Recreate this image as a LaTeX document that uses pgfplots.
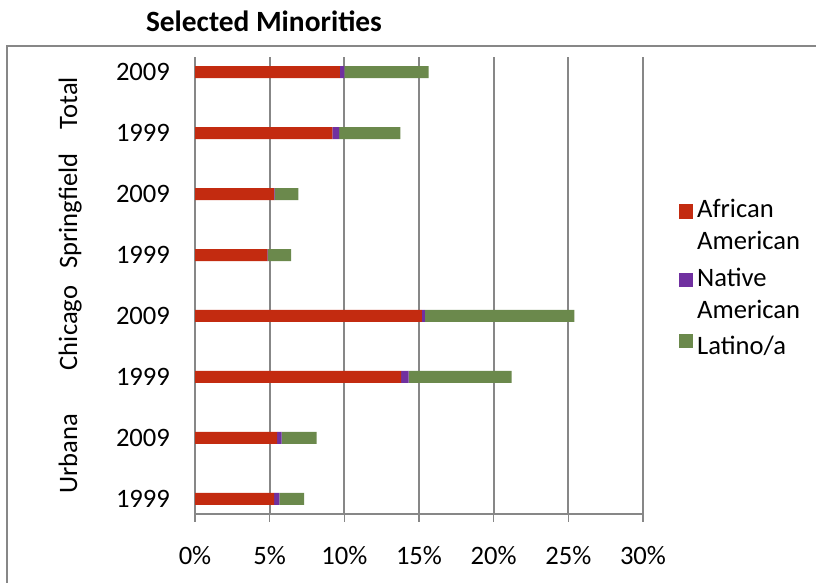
\documentclass[border=0pt]{standalone}
\usepackage{pgfplots}
\pgfplotsset{compat=1.18}
\usepackage{fontspec}
\setmainfont{Carlito}
\definecolor{aa}{HTML}{C32B10}
\definecolor{na}{HTML}{7030A0}
\definecolor{la}{HTML}{6B894C}
\definecolor{gr}{HTML}{878787}
\pgfplotsset{
  sq/.style={legend image code/.code={\path[draw=none, fill=none] (-2pt,0.2pt) rectangle (5.2pt,7.4pt);\fill[##1, overlay] (-2pt,-0.6pt) rectangle (5.2pt,6.6pt);}},
  sqtwo/.style={legend image code/.code={\path[draw=none, fill=none] (-2pt,0.2pt) rectangle (5.2pt,7.4pt);\fill[##1, overlay] (-2pt,3.7pt) rectangle (5.2pt,10.9pt);}}
}
\begin{document}
\begin{tikzpicture}[font=\fontsize{13.3}{16}\selectfont]
\useasboundingbox (0,0) rectangle (408pt,-291.5pt);
\draw[gr, line width=0.8pt] (3.5pt,-300pt) -- (3.5pt,-23pt) -- (420pt,-23pt);
\node[font=\fontsize{14.7}{17}\selectfont\bfseries, anchor=base] at (132pt,-16pt) {Selected Minorities};
\node[rotate=90, anchor=base] at (38.5pt,-51.5pt) {Total};
\node[rotate=90, anchor=base] at (38.5pt,-105.5pt) {Springfield};
\node[rotate=90, anchor=base] at (38.5pt,-164pt) {Chicago};
\node[rotate=90, anchor=base] at (38.5pt,-226.75pt) {Urbana};
\begin{axis}[
  at={(97.5pt,-257pt)}, anchor=south west,
  scale only axis, width=224pt, height=228.5pt,
  xbar stacked, bar width=6pt,
  xmin=0, xmax=30, ymin=-0.25, ymax=7.25,
  xtick={0,5,10,15,20,25,30},
  xticklabels={0\%,5\%,10\%,15\%,20\%,25\%,30\%},
  ytick={0,1,2,3,4,5,6,7},
  yticklabels={1999,2009,1999,2009,1999,2009,1999,2009},
  axis x line=bottom, axis y line=left,
  axis line style={-, draw=gr, line width=0.8pt},
  xmajorgrids, grid style={gr, line width=1pt},
  major tick length=4pt,
  xtick style={draw=gr, line width=0.8pt},
  xtick align=outside,
  ytick style={draw=none},
  xticklabel style={yshift=-8.5pt},
  yticklabel style={xshift=-7pt},
  legend style={at={(1.079,0.698)}, anchor=north west, draw=none, fill=none,
    cells={align=left, font=\fontsize{13.3}{16}\selectfont}, row sep=3.5pt, inner sep=0pt},
  legend cell align=left,
]
\addplot[fill=aa, draw=none, sqtwo] coordinates {(5.3,0) (5.5,1) (13.8,2) (15.2,3) (4.85,4) (5.3,5) (9.2,6) (9.7,7)};
\addplot[fill=na, draw=none, sqtwo] coordinates {(0.35,0) (0.3,1) (0.5,2) (0.2,3) (0.03,4) (0.03,5) (0.45,6) (0.3,7)};
\addplot[fill=la, draw=none, sq] coordinates {(1.65,0) (2.35,1) (6.9,2) (10.0,3) (1.55,4) (1.6,5) (4.1,6) (5.65,7)};
\legend{{African\\American},{Native\\American},Latino/a}
\end{axis}
\end{tikzpicture}
\end{document}
